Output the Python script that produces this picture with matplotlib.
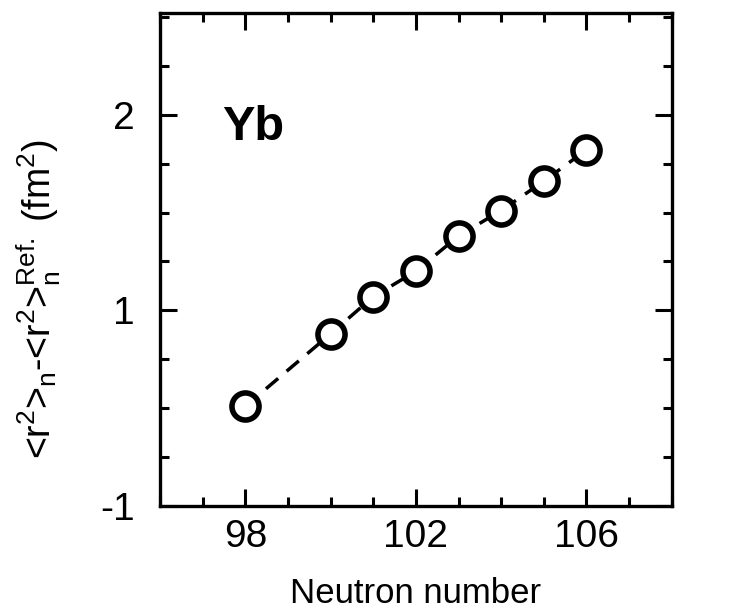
import numpy as np
import matplotlib.pyplot as plt
from matplotlib.ticker import MultipleLocator

plt.rcParams['font.family'] = ['Liberation Sans', 'DejaVu Sans']
plt.rcParams['mathtext.fontset'] = 'custom'
plt.rcParams['mathtext.rm'] = 'Liberation Sans'
plt.rcParams['mathtext.it'] = 'Liberation Sans'

# Yb isotopes: neutron number and charge-radius shift
neutrons = [98, 100, 101, 102, 103, 104, 105, 106]
delta_r2 = [0.51, 0.88, 1.07, 1.20, 1.38, 1.51, 1.66, 1.82]

ytick_pos = [0, 1, 2]
ytick_labels = ['-1', '1', '2']
xtick_pos = [98, 102, 106]

fig = plt.figure(figsize=(7.48, 6.12), dpi=100)
ax = fig.add_axes([0.214, 0.173, 0.684, 0.806])

ax.plot(neutrons, delta_r2, color='black', ls=(0, (4.6, 3.2)), lw=2.5,
        marker='o', ms=19.5, mfc='white', mec='black', mew=4.0)

ax.set_xlim(96, 108)
ax.set_ylim(0, 2.52)
ax.set_xticks(xtick_pos)
ax.xaxis.set_minor_locator(MultipleLocator(1))
ax.set_yticks(ytick_pos)
ax.set_yticklabels(ytick_labels)
ax.yaxis.set_minor_locator(MultipleLocator(0.25))

ax.tick_params(which='both', direction='in', top=True, right=True, width=2.2)
ax.tick_params(which='major', length=12)
ax.tick_params(which='minor', length=6.5)
ax.tick_params(axis='x', which='major', labelsize=28, pad=9)
ax.tick_params(axis='y', which='major', labelsize=28, pad=18)
for s in ax.spines.values():
    s.set_linewidth(2.4)

ax.set_xlabel('Neutron number', fontsize=25, labelpad=16)
ax.set_ylabel(r'<r$^2$>$_n$-<r$^2$>$_n^{\rm Ref.}$ (fm$^2$)', fontsize=27)
ax.yaxis.set_label_coords(-0.19, 0.42)

ax.text(97.45, 1.87, 'Yb', fontsize=35, fontweight='bold')

fig.savefig('out.png', dpi=100)
